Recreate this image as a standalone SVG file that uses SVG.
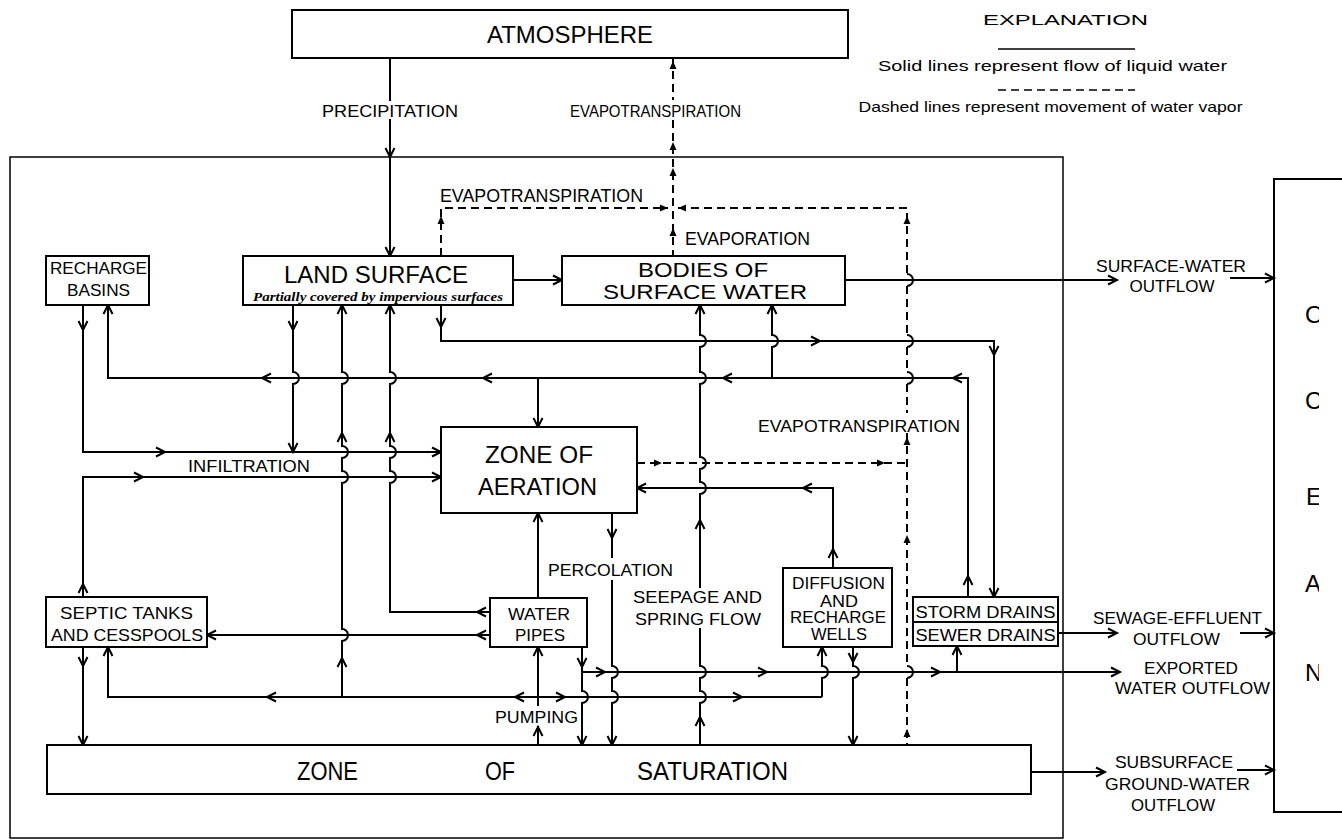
<svg xmlns="http://www.w3.org/2000/svg" xmlns:xlink="http://www.w3.org/1999/xlink" width="1342" height="840" viewBox="0 0 1342 840">
<defs>
<style>
.bx{fill:#fff;stroke:#000;stroke-width:2}
.ln{fill:none;stroke:#000;stroke-width:2}
.dl{fill:none;stroke:#000;stroke-width:2;stroke-dasharray:8 5}
text{font-family:"Liberation Sans",Arial,sans-serif;fill:#000;text-anchor:middle}
.s{font-size:17px}
.m{font-size:16px}
.l{font-size:24px}
.it{font-family:"Liberation Serif","Times New Roman",serif;font-style:italic;font-weight:bold;font-size:11.5px}
.oc{font-size:24px;text-anchor:start}
</style>
<path id="a" d="M-9,-4.5L0,0L-9,4.5" fill="none" stroke="#000" stroke-width="2"/>
<path id="v" d="M-8,-3.5L0,0L-8,3.5Z" fill="#000"/>
<clipPath id="occ"><rect x="1270" y="170" width="49" height="660"/></clipPath>
</defs>
<rect width="1342" height="840" fill="#fff"/>

<g id="frame">
<rect x="10" y="157" width="1053" height="681" fill="none" stroke="#000" stroke-width="1.5"/>
</g>

<g id="connectors">
<path class="ln" d="M390,58V101M390,119V256"/>
<path class="ln" d="M513,280H562"/>
<path class="ln" d="M845,280H1117M1230,278H1274"/>
<path class="ln" d="M441,305V341H994V597"/>
<path class="ln" d="M108,305V378H968V597M538,378V427"/>
<path class="ln" d="M772,305V335A6,6 0 0 1 772,347V378"/>
<path class="ln" d="M293,305V372A6,6 0 0 1 293,384V452"/>
<path class="ln" d="M83,305V452H441"/>
<path class="ln" d="M83,597V477H441"/>
<path class="ln" d="M342,305V372A6,6 0 0 1 342,384V446A6,6 0 0 1 342,458V471A6,6 0 0 1 342,483V629A6,6 0 0 1 342,641V697"/>
<path class="ln" d="M390,305V372A6,6 0 0 1 390,384V446A6,6 0 0 1 390,458V471A6,6 0 0 1 390,483V612H490"/>
<path class="ln" d="M490,635H207"/>
<path class="ln" d="M538,598V513"/>
<path class="ln" d="M538,745V726M538,706V647"/>
<path class="ln" d="M108,647V697H822"/>
<path class="ln" d="M822,647V666A6,6 0 0 1 822,678V697"/>
<path class="ln" d="M83,647V745"/>
<path class="ln" d="M582,647V691A6,6 0 0 1 582,703V745"/>
<path class="ln" d="M582,672H1120M957,672V646"/>
<path class="ln" d="M612,513V558M612,580V666A6,6 0 0 1 612,678V691A6,6 0 0 1 612,703V745"/>
<path class="ln" d="M700,305V335A6,6 0 0 1 700,347V372A6,6 0 0 1 700,384V457A6,6 0 0 1 700,469V482A6,6 0 0 1 700,494V588M700,628V666A6,6 0 0 1 700,678V691A6,6 0 0 1 700,703V745"/>
<path class="ln" d="M833,568V488H637"/>
<path class="ln" d="M853,647V666A6,6 0 0 1 853,678V745"/>
<path class="ln" d="M1058,633H1117M1240,633H1274"/>
<path class="ln" d="M1031,772H1105M1237,770H1274"/>
<path class="dl" d="M673,58V100M673,120V256"/>
<path class="dl" d="M441,256V208H668"/>
<path class="dl" d="M678,208H907V274M907,286V335M907,347V372M907,384V413M907,433V666M907,678V745"/>
<path class="ln" d="M907,274A6,6 0 0 1 907,286M907,335A6,6 0 0 1 907,347M907,372A6,6 0 0 1 907,384M907,666A6,6 0 0 1 907,678"/>
<path class="dl" d="M637,463H907"/>

<use xlink:href="#v" transform="translate(673,61) rotate(-90)"/>
<use xlink:href="#v" transform="translate(673,142) rotate(-90)"/>
<use xlink:href="#v" transform="translate(673,168) rotate(-90)"/>
<use xlink:href="#v" transform="translate(673,228) rotate(-90)"/>
<use xlink:href="#v" transform="translate(441,216) rotate(-90)"/>
<use xlink:href="#v" transform="translate(668,208)"/>
<use xlink:href="#v" transform="translate(678,208) rotate(180)"/>
<use xlink:href="#v" transform="translate(907,216) rotate(-90)"/>
<use xlink:href="#v" transform="translate(907,437) rotate(-90)"/>
<use xlink:href="#v" transform="translate(907,535) rotate(-90)"/>
<use xlink:href="#v" transform="translate(907,729) rotate(-90)"/>
<use xlink:href="#v" transform="translate(662,463)"/>
<use xlink:href="#v" transform="translate(885,463)"/>

<use xlink:href="#a" transform="translate(390,157) rotate(90)"/>
<use xlink:href="#a" transform="translate(390,256) rotate(90)"/>
<use xlink:href="#a" transform="translate(562,280)"/>
<use xlink:href="#a" transform="translate(1117,280)"/>
<use xlink:href="#a" transform="translate(1274,278)"/>
<use xlink:href="#a" transform="translate(441,327) rotate(90)"/>
<use xlink:href="#a" transform="translate(820,341)"/>
<use xlink:href="#a" transform="translate(994,355) rotate(90)"/>
<use xlink:href="#a" transform="translate(994,597) rotate(90)"/>
<use xlink:href="#a" transform="translate(108,305) rotate(-90)"/>
<use xlink:href="#a" transform="translate(262,378) rotate(180)"/>
<use xlink:href="#a" transform="translate(483,378) rotate(180)"/>
<use xlink:href="#a" transform="translate(723,378) rotate(180)"/>
<use xlink:href="#a" transform="translate(953,378) rotate(180)"/>
<use xlink:href="#a" transform="translate(968,576) rotate(-90)"/>
<use xlink:href="#a" transform="translate(538,427) rotate(90)"/>
<use xlink:href="#a" transform="translate(772,305) rotate(-90)"/>
<use xlink:href="#a" transform="translate(293,330) rotate(90)"/>
<use xlink:href="#a" transform="translate(293,452) rotate(90)"/>
<use xlink:href="#a" transform="translate(83,330) rotate(90)"/>
<use xlink:href="#a" transform="translate(165,452)"/>
<use xlink:href="#a" transform="translate(441,452)"/>
<use xlink:href="#a" transform="translate(83,584) rotate(-90)"/>
<use xlink:href="#a" transform="translate(143,477)"/>
<use xlink:href="#a" transform="translate(441,477)"/>
<use xlink:href="#a" transform="translate(342,305) rotate(-90)"/>
<use xlink:href="#a" transform="translate(342,433) rotate(-90)"/>
<use xlink:href="#a" transform="translate(342,658) rotate(-90)"/>
<use xlink:href="#a" transform="translate(390,305) rotate(-90)"/>
<use xlink:href="#a" transform="translate(390,433) rotate(-90)"/>
<use xlink:href="#a" transform="translate(477,612) rotate(180)"/>
<use xlink:href="#a" transform="translate(477,635) rotate(180)"/>
<use xlink:href="#a" transform="translate(207,635) rotate(180)"/>
<use xlink:href="#a" transform="translate(538,513) rotate(-90)"/>
<use xlink:href="#a" transform="translate(538,727) rotate(-90)"/>
<use xlink:href="#a" transform="translate(538,647) rotate(-90)"/>
<use xlink:href="#a" transform="translate(108,647) rotate(-90)"/>
<use xlink:href="#a" transform="translate(267,697) rotate(180)"/>
<use xlink:href="#a" transform="translate(515,697) rotate(180)"/>
<use xlink:href="#a" transform="translate(565,697)"/>
<use xlink:href="#a" transform="translate(742,697)"/>
<use xlink:href="#a" transform="translate(822,647) rotate(-90)"/>
<use xlink:href="#a" transform="translate(83,666) rotate(90)"/>
<use xlink:href="#a" transform="translate(83,745) rotate(90)"/>
<use xlink:href="#a" transform="translate(582,667) rotate(90)"/>
<use xlink:href="#a" transform="translate(582,745) rotate(90)"/>
<use xlink:href="#a" transform="translate(605,672)"/>
<use xlink:href="#a" transform="translate(767,672)"/>
<use xlink:href="#a" transform="translate(940,672)"/>
<use xlink:href="#a" transform="translate(1120,672)"/>
<use xlink:href="#a" transform="translate(957,646) rotate(-90)"/>
<use xlink:href="#a" transform="translate(612,538) rotate(90)"/>
<use xlink:href="#a" transform="translate(612,745) rotate(90)"/>
<use xlink:href="#a" transform="translate(700,305) rotate(-90)"/>
<use xlink:href="#a" transform="translate(700,520) rotate(-90)"/>
<use xlink:href="#a" transform="translate(700,717) rotate(-90)"/>
<use xlink:href="#a" transform="translate(833,549) rotate(-90)"/>
<use xlink:href="#a" transform="translate(803,488) rotate(180)"/>
<use xlink:href="#a" transform="translate(637,488) rotate(180)"/>
<use xlink:href="#a" transform="translate(853,662) rotate(90)"/>
<use xlink:href="#a" transform="translate(853,745) rotate(90)"/>
<use xlink:href="#a" transform="translate(1117,633)"/>
<use xlink:href="#a" transform="translate(1274,633)"/>
<use xlink:href="#a" transform="translate(1105,772)"/>
<use xlink:href="#a" transform="translate(1274,770)"/>

<text class="s" x="390" y="117" textLength="136" lengthAdjust="spacingAndGlyphs">PRECIPITATION</text>
<text class="s" x="655.5" y="117" textLength="171" lengthAdjust="spacingAndGlyphs">EVAPOTRANSPIRATION</text>
<text class="s" x="541.5" y="202" textLength="203" lengthAdjust="spacingAndGlyphs" style="font-size:18px">EVAPOTRANSPIRATION</text>
<text class="s" x="747.5" y="245" textLength="125" lengthAdjust="spacingAndGlyphs" style="font-size:18px">EVAPORATION</text>
<text class="s" x="859" y="432" textLength="202" lengthAdjust="spacingAndGlyphs">EVAPOTRANSPIRATION</text>
<text class="s" x="249" y="472" textLength="122" lengthAdjust="spacingAndGlyphs">INFILTRATION</text>
<text class="s" x="610.5" y="576" textLength="125" lengthAdjust="spacingAndGlyphs">PERCOLATION</text>
<text class="s" x="697.5" y="603" textLength="129" lengthAdjust="spacingAndGlyphs">SEEPAGE AND</text>
<text class="s" x="698" y="625" textLength="126" lengthAdjust="spacingAndGlyphs">SPRING FLOW</text>
<text class="s" x="536.5" y="723" textLength="83" lengthAdjust="spacingAndGlyphs">PUMPING</text>
<text class="s" x="1171" y="272" textLength="150" lengthAdjust="spacingAndGlyphs">SURFACE-WATER</text>
<text class="s" x="1172" y="292" textLength="85" lengthAdjust="spacingAndGlyphs">OUTFLOW</text>
<text class="s" x="1177.5" y="624" textLength="169" lengthAdjust="spacingAndGlyphs">SEWAGE-EFFLUENT</text>
<text class="s" x="1176.5" y="645" textLength="87" lengthAdjust="spacingAndGlyphs">OUTFLOW</text>
<text class="s" x="1191" y="674" textLength="94" lengthAdjust="spacingAndGlyphs">EXPORTED</text>
<text class="s" x="1192.5" y="694" textLength="155" lengthAdjust="spacingAndGlyphs">WATER OUTFLOW</text>
<text class="s" x="1174" y="768" textLength="118" lengthAdjust="spacingAndGlyphs">SUBSURFACE</text>
<text class="s" x="1177.5" y="790" textLength="145" lengthAdjust="spacingAndGlyphs">GROUND-WATER</text>
<text class="s" x="1173" y="811" textLength="84" lengthAdjust="spacingAndGlyphs">OUTFLOW</text>
</g>

<g id="atmosphere">
<rect class="bx" x="292" y="10" width="556" height="48"/>
<text class="l" x="570" y="43" textLength="166" lengthAdjust="spacingAndGlyphs">ATMOSPHERE</text>
</g>

<g id="land-surface">
<rect class="bx" x="243" y="256" width="270" height="49"/>
<text class="l" x="376" y="283" textLength="184" lengthAdjust="spacingAndGlyphs">LAND SURFACE</text>
<text class="it" x="378" y="301" textLength="250" lengthAdjust="spacingAndGlyphs">Partially covered by impervious surfaces</text>
</g>

<g id="bodies-of-surface-water">
<rect class="bx" x="562" y="256" width="283" height="49"/>
<text class="l" x="703" y="277" textLength="130" lengthAdjust="spacingAndGlyphs" style="font-size:21px">BODIES OF</text>
<text class="l" x="705" y="299" textLength="204" lengthAdjust="spacingAndGlyphs" style="font-size:21px">SURFACE WATER</text>
</g>

<g id="recharge-basins">
<rect class="bx" x="46" y="256" width="103" height="49"/>
<text class="s" x="98.5" y="274" textLength="97" lengthAdjust="spacingAndGlyphs">RECHARGE</text>
<text class="s" x="98.5" y="296" textLength="63" lengthAdjust="spacingAndGlyphs">BASINS</text>
</g>

<g id="zone-of-aeration">
<rect class="bx" x="441" y="427" width="196" height="86"/>
<text class="l" x="539" y="463" textLength="108" lengthAdjust="spacingAndGlyphs">ZONE OF</text>
<text class="l" x="537.5" y="495" textLength="119" lengthAdjust="spacingAndGlyphs">AERATION</text>
</g>

<g id="septic-tanks">
<rect class="bx" x="46" y="597" width="161" height="50"/>
<text class="s" x="126.5" y="619" textLength="133" lengthAdjust="spacingAndGlyphs">SEPTIC TANKS</text>
<text class="s" x="127" y="641" textLength="152" lengthAdjust="spacingAndGlyphs">AND CESSPOOLS</text>
</g>

<g id="water-pipes">
<rect class="bx" x="490" y="598" width="97" height="49"/>
<text class="s" x="539" y="620" textLength="62" lengthAdjust="spacingAndGlyphs">WATER</text>
<text class="s" x="540" y="641" textLength="50" lengthAdjust="spacingAndGlyphs">PIPES</text>
</g>

<g id="diffusion-wells">
<rect class="bx" x="783" y="568" width="109" height="79"/>
<text class="m" x="838.5" y="589" textLength="93" lengthAdjust="spacingAndGlyphs">DIFFUSION</text>
<text class="m" x="839" y="607" textLength="38" lengthAdjust="spacingAndGlyphs">AND</text>
<text class="m" x="838" y="623" textLength="96" lengthAdjust="spacingAndGlyphs">RECHARGE</text>
<text class="m" x="839" y="640" textLength="56" lengthAdjust="spacingAndGlyphs">WELLS</text>
</g>

<g id="storm-sewer-drains">
<rect class="bx" x="913" y="597" width="145" height="49"/>
<path class="ln" d="M913,622H1058"/>
<text class="m" x="985.5" y="618" textLength="140" lengthAdjust="spacingAndGlyphs">STORM DRAINS</text>
<text class="m" x="985.5" y="641" textLength="140" lengthAdjust="spacingAndGlyphs">SEWER DRAINS</text>
</g>

<g id="zone-of-saturation">
<rect class="bx" x="47" y="745" width="984" height="49"/>
<text class="l" x="327.5" y="780" textLength="61" lengthAdjust="spacingAndGlyphs" style="font-size:25px">ZONE</text>
<text class="l" x="500" y="780" textLength="30" lengthAdjust="spacingAndGlyphs" style="font-size:25px">OF</text>
<text class="l" x="712.5" y="780" textLength="151" lengthAdjust="spacingAndGlyphs" style="font-size:25px">SATURATION</text>
</g>

<g id="ocean">
<path d="M1342,179H1274V812H1342" fill="none" stroke="#000" stroke-width="2"/>
<g clip-path="url(#occ)">
<text class="oc" x="1305" y="323">O</text>
<text class="oc" x="1305" y="409">C</text>
<text class="oc" x="1306" y="505">E</text>
<text class="oc" x="1305" y="592">A</text>
<text class="oc" x="1305" y="681">N</text>
</g>
</g>

<g id="explanation">
<text x="1065.5" y="25" style="font-size:15px" textLength="165" lengthAdjust="spacingAndGlyphs">EXPLANATION</text>
<path d="M998,49H1135" fill="none" stroke="#000" stroke-width="1.5"/>
<text x="1052.5" y="71" style="font-size:15px" textLength="349" lengthAdjust="spacingAndGlyphs">Solid lines represent flow of liquid water</text>
<path d="M998,90H1135" fill="none" stroke="#000" stroke-width="1.5" stroke-dasharray="8 5"/>
<text x="1050.5" y="112" style="font-size:15px" textLength="384" lengthAdjust="spacingAndGlyphs">Dashed lines represent movement of water vapor</text>
</g>
</svg>
